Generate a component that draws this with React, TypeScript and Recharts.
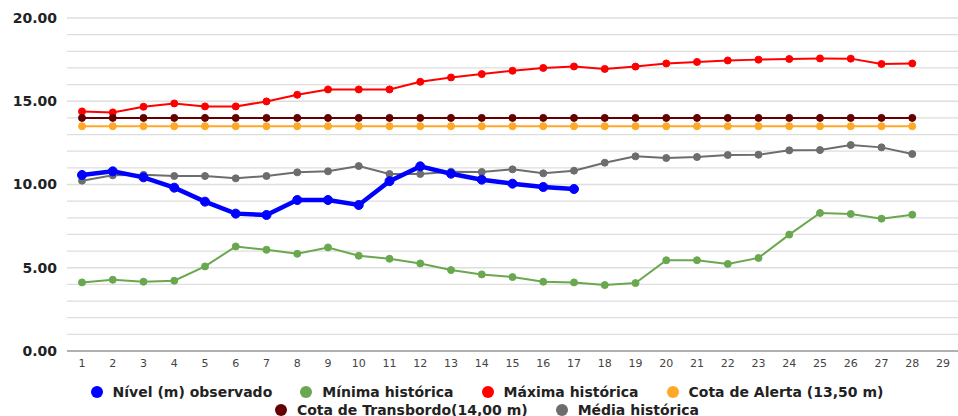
import { CartesianGrid, Line, LineChart, XAxis, YAxis } from 'recharts';

const categories = [
  '1', '2', '3', '4', '5', '6', '7', '8', '9', '10', '11', '12', '13', '14', '15',
  '16', '17', '18', '19', '20', '21', '22', '23', '24', '25', '26', '27', '28', '29',
];

const nivelObservado = [
  10.57, 10.79, 10.43, 9.81, 8.97, 8.25, 8.17, 9.07, 9.07, 8.77, 10.2, 11.09, 10.65, 10.29,
  10.05, 9.85, 9.73,
];

const minimaHistorica = [
  4.12, 4.28, 4.16, 4.22, 5.08, 6.28, 6.08, 5.84, 6.22, 5.72, 5.54, 5.26, 4.86, 4.6, 4.44,
  4.16, 4.12, 3.96, 4.08, 5.45, 5.45, 5.23, 5.59, 6.99, 8.29, 8.23, 7.95, 8.19,
];

const maximaHistorica = [
  14.39, 14.33, 14.67, 14.87, 14.69, 14.69, 14.99, 15.39, 15.71, 15.71, 15.71, 16.17, 16.43,
  16.63, 16.83, 17.0, 17.09, 16.94, 17.08, 17.27, 17.36, 17.45, 17.5, 17.54, 17.57, 17.56,
  17.24, 17.27,
];

const cotaAlerta = [
  13.5, 13.5, 13.5, 13.5, 13.5, 13.5, 13.5, 13.5, 13.5, 13.5, 13.5, 13.5, 13.5, 13.5, 13.5,
  13.5, 13.5, 13.5, 13.5, 13.5, 13.5, 13.5, 13.5, 13.5, 13.5, 13.5, 13.5, 13.5,
];

const cotaTransbordo = [
  14, 14, 14, 14, 14, 14, 14, 14, 14, 14, 14, 14, 14, 14, 14, 14, 14, 14, 14, 14, 14, 14, 14,
  14, 14, 14, 14, 14,
];

const mediaHistorica = [
  10.23, 10.55, 10.58, 10.51, 10.51, 10.37, 10.51, 10.73, 10.79, 11.11, 10.63, 10.63, 10.77,
  10.75, 10.91, 10.67, 10.83, 11.31, 11.69, 11.59, 11.65, 11.77, 11.79, 12.05, 12.07, 12.37,
  12.23, 11.83,
];

const yTicks = [0, 1, 2, 3, 4, 5, 6, 7, 8, 9, 10, 11, 12, 13, 14, 15, 16, 17, 18, 19, 20];

// legend order (draw order differs so the observed line sits on top)
const LEGEND = [
  { name: 'Nível (m) observado', color: '#0000ff' },
  { name: 'Mínima histórica', color: '#6aa84f' },
  { name: 'Máxima histórica', color: '#ff0000' },
  { name: 'Cota de Alerta (13,50 m)', color: '#ffa726' },
  { name: 'Cota de Transbordo(14,00 m)', color: '#660000' },
  { name: 'Média histórica', color: '#6d6d6d' },
];

const data = categories.map((dia, i) => ({
  dia,
  nivel: nivelObservado[i],
  minima: minimaHistorica[i],
  maxima: maximaHistorica[i],
  alerta: cotaAlerta[i],
  transbordo: cotaTransbordo[i],
  media: mediaHistorica[i],
}));

const FONT = "'DejaVu Sans', sans-serif";

function ChartLegend() {
  return (
    <div
      style={{
        position: 'absolute',
        left: 70,
        top: 383,
        width: 834,
        display: 'flex',
        flexWrap: 'wrap',
        justifyContent: 'center',
        rowGap: 1,
        columnGap: 28,
        fontFamily: FONT,
        fontWeight: 'bold',
        fontSize: 14,
        color: '#222',
      }}
    >
      {LEGEND.map((item) => (
        <div key={item.name} style={{ display: 'flex', alignItems: 'center', height: 17 }}>
          <span
            style={{
              width: 12,
              height: 12,
              borderRadius: '50%',
              background: item.color,
              marginRight: 10,
              display: 'inline-block',
            }}
          />
          <span style={{ whiteSpace: 'nowrap' }}>{item.name}</span>
        </div>
      ))}
    </div>
  );
}

const thin = (color: string, key: string) => (
  <Line
    type='linear'
    dataKey={key}
    stroke={color}
    strokeWidth={2}
    dot={{ r: 3.5, fill: color, stroke: color, strokeWidth: 1 }}
    activeDot={false}
    isAnimationActive={false}
  />
);

export default function App() {
  return (
    <div style={{ position: 'absolute', left: 0, top: 0, width: 958, height: 416, background: '#fff' }}>
      <LineChart width={958} height={416} data={data} margin={{ top: 18, right: 0, bottom: 35, left: 0 }}>
        <CartesianGrid vertical={false} stroke='#dedede' strokeWidth={1.3} />
        <XAxis
          dataKey='dia'
          padding={{ left: 15, right: 15 }}
          tickLine={false}
          axisLine={{ stroke: '#9e9e9e', strokeWidth: 1.5 }}
          tick={{ fontSize: 11, fill: '#444', fontFamily: FONT }}
          height={30}
          interval={0}
        />
        <YAxis
          domain={[0, 20]}
          ticks={yTicks}
          width={67}
          axisLine={false}
          tickLine={false}
          tickMargin={4}
          interval={0}
          tickFormatter={(v: number) => (v % 5 === 0 ? v.toFixed(2) : '')}
          tick={{ fontSize: 14, fontWeight: 'bold', fill: '#222', fontFamily: FONT }}
        />
        {thin('#6d6d6d', 'media')}
        {thin('#6aa84f', 'minima')}
        {thin('#ff0000', 'maxima')}
        {thin('#ffa726', 'alerta')}
        {thin('#660000', 'transbordo')}
        <Line
          type='linear'
          dataKey='nivel'
          stroke='#0000ff'
          strokeWidth={4.5}
          dot={{ r: 4.5, fill: '#0000ff', stroke: '#0000ff', strokeWidth: 1 }}
          activeDot={false}
          isAnimationActive={false}
        />
      </LineChart>
      <ChartLegend />
    </div>
  );
}
